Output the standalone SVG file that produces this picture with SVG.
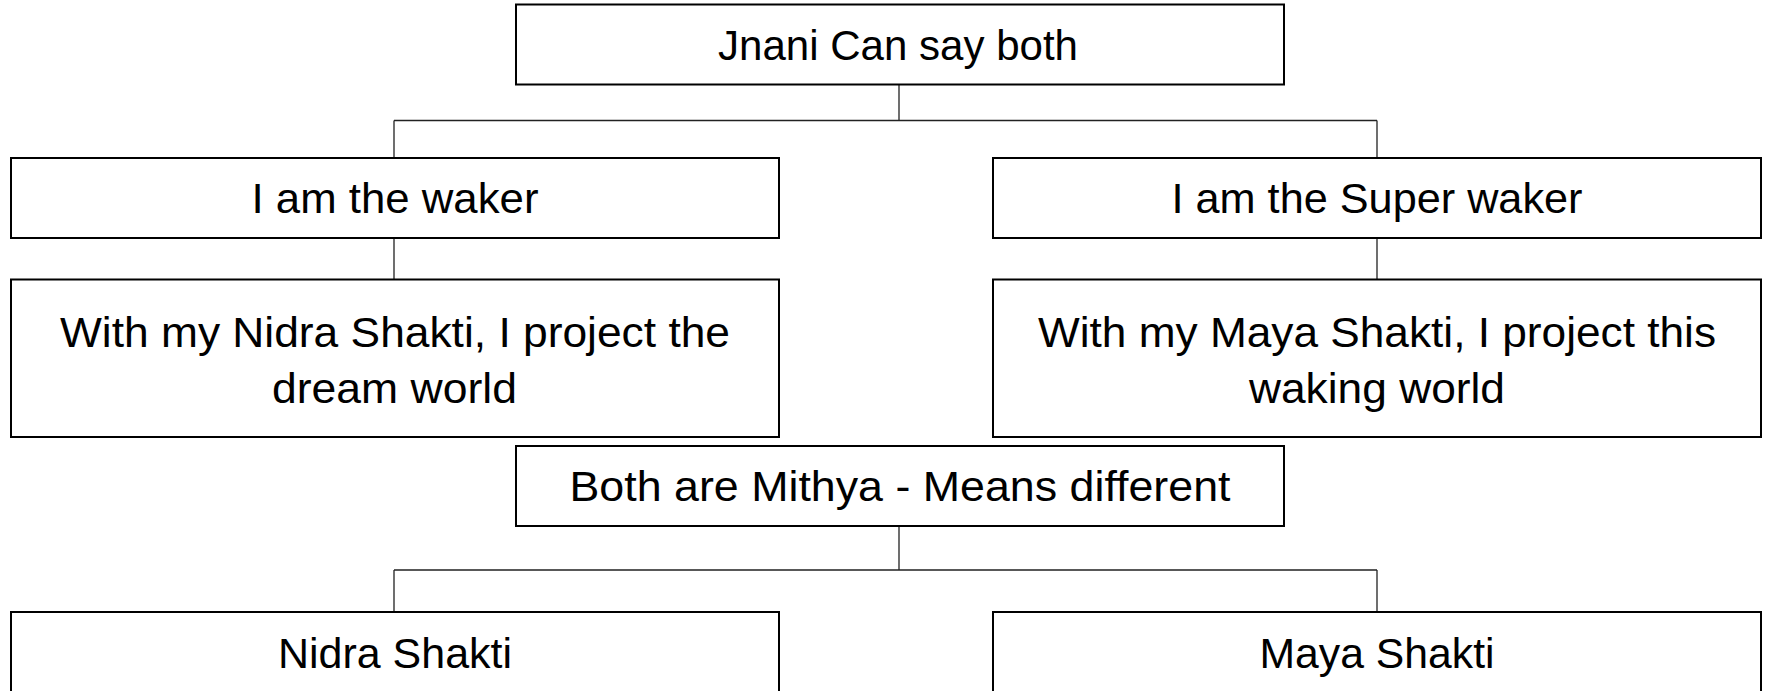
<svg xmlns="http://www.w3.org/2000/svg" width="1767" height="691" viewBox="0 0 1767 691">
<style>
.box{fill:#fff;stroke:#000;stroke-width:2}
.lbl{font-family:"Liberation Sans",Arial,sans-serif;font-size:43px;fill:#000;text-anchor:middle}
.con{fill:none;stroke:#222;stroke-width:1.3}
</style>
<rect width="1767" height="691" fill="#fff"/>
<g id="connectors">
<path class="con" d="M899 84.5V120.5M394 120.5H1377M394 120.5V158M1377 120.5V158"/>
<path class="con" d="M394 238V279.5M1377 238V279.5"/>
<path class="con" d="M899 526V570M394 570H1377M394 570V612M1377 570V612"/>
</g>
<g id="n-jnani">
<rect class="box" x="516" y="4.5" width="768" height="80"/>
<text class="lbl" x="898" y="60" textLength="360" lengthAdjust="spacingAndGlyphs">Jnani Can say both</text>
</g>
<g id="n-waker">
<rect class="box" x="11" y="158" width="768" height="80"/>
<text class="lbl" x="395" y="213" textLength="287" lengthAdjust="spacingAndGlyphs">I am the waker</text>
</g>
<g id="n-superwaker">
<rect class="box" x="993" y="158" width="768" height="80"/>
<text class="lbl" x="1377" y="213" textLength="411" lengthAdjust="spacingAndGlyphs">I am the Super waker</text>
</g>
<g id="n-nidra-project">
<rect class="box" x="11" y="279.5" width="768" height="157.5"/>
<text class="lbl" x="395" y="347" textLength="670" lengthAdjust="spacingAndGlyphs">With my Nidra Shakti, I project the</text>
<text class="lbl" x="394.5" y="403" textLength="245" lengthAdjust="spacingAndGlyphs">dream world</text>
</g>
<g id="n-maya-project">
<rect class="box" x="993" y="279.5" width="768" height="157.5"/>
<text class="lbl" x="1377" y="347" textLength="678" lengthAdjust="spacingAndGlyphs">With my Maya Shakti, I project this</text>
<text class="lbl" x="1377" y="403" textLength="256" lengthAdjust="spacingAndGlyphs">waking world</text>
</g>
<g id="n-mithya">
<rect class="box" x="516" y="446" width="768" height="80"/>
<text class="lbl" x="900" y="501" textLength="661" lengthAdjust="spacingAndGlyphs">Both are Mithya - Means different</text>
</g>
<g id="n-nidra">
<rect class="box" x="11" y="612" width="768" height="100"/>
<text class="lbl" x="395" y="668" textLength="234" lengthAdjust="spacingAndGlyphs">Nidra Shakti</text>
</g>
<g id="n-maya">
<rect class="box" x="993" y="612" width="768" height="100"/>
<text class="lbl" x="1377" y="668" textLength="235" lengthAdjust="spacingAndGlyphs">Maya Shakti</text>
</g>
</svg>
